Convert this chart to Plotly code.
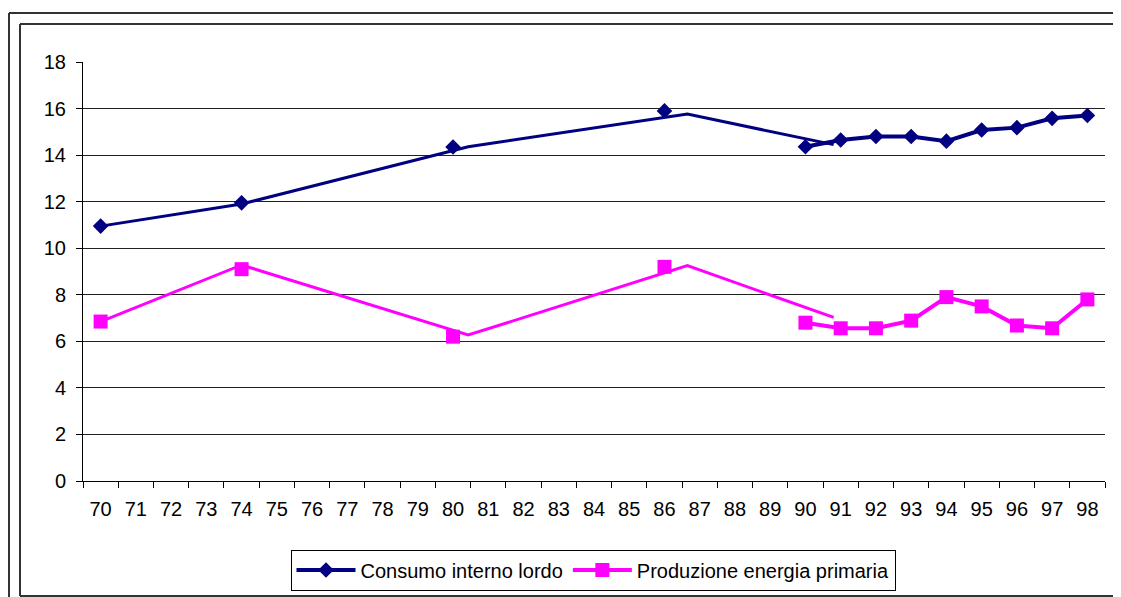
import plotly.graph_objects as go

years = [70, 74, 80, 86, 90, 91, 92, 93, 94, 95, 96, 97, 98]
consumo = [10.95, 11.95, 14.35, 15.9, 14.36, 14.65, 14.8, 14.8, 14.6, 15.08, 15.18, 15.58, 15.7]
produzione = [6.85, 9.1, 6.2, 9.2, 6.8, 6.56, 6.56, 6.89, 7.9, 7.5, 6.68, 6.56, 7.8]

# the early segment of each line is drawn slightly off the markers in the original
trend_x = [70, 74, 80.43, 86.65, 90.8]
consumo_trend = [10.95, 11.9, 14.36, 15.76, 14.45]
produzione_trend = [6.85, 9.28, 6.27, 9.25, 7.03]

tick_labels = [str(y) for y in range(70, 99)]

NAVY = "#000080"
PINK = "#FF00FF"
FONT = "Liberation Sans, Arial, sans-serif"

W, H = 1121, 597
OFF = 8  # page body margin: figure starts 8px in

# plot area in page pixels
L, R, T, B = 83, 1105, 62, 481


def px(x):
    return (x - L) / (R - L)


def py(y):
    return (B - y) / (B - T)


fig = go.Figure()

# early hand-drawn segments
fig.add_trace(go.Scatter(x=trend_x, y=consumo_trend, mode="lines",
                         line=dict(color=NAVY, width=3), showlegend=False, hoverinfo="skip"))
fig.add_trace(go.Scatter(x=trend_x, y=produzione_trend, mode="lines",
                         line=dict(color=PINK, width=3), showlegend=False, hoverinfo="skip"))

# early markers
fig.add_trace(go.Scatter(x=years[:4], y=consumo[:4], mode="markers",
                         marker=dict(symbol="diamond", size=12, color=NAVY), showlegend=False))
fig.add_trace(go.Scatter(x=years[:4], y=produzione[:4], mode="markers",
                         marker=dict(symbol="square", size=14, color=PINK), showlegend=False))

# yearly series from 1990
fig.add_trace(go.Scatter(x=years[4:], y=consumo[4:], mode="lines+markers",
                         name="Consumo interno lordo",
                         line=dict(color=NAVY, width=4),
                         marker=dict(symbol="diamond", size=12, color=NAVY)))
fig.add_trace(go.Scatter(x=years[4:], y=produzione[4:], mode="lines+markers",
                         name="Produzione energia primaria",
                         line=dict(color=PINK, width=4),
                         marker=dict(symbol="square", size=14, color=PINK)))

frame = dict(color="#333333", width=2)
shapes = [
    # outer frame
    dict(type="line", xref="paper", yref="paper", x0=px(9), x1=px(W + 20), y0=py(13), y1=py(13), line=frame),
    dict(type="line", xref="paper", yref="paper", x0=px(9), x1=px(9), y0=py(13), y1=py(W), line=frame),
    # inner frame
    dict(type="line", xref="paper", yref="paper", x0=px(20), x1=px(W + 20), y0=py(24), y1=py(24), line=frame),
    dict(type="line", xref="paper", yref="paper", x0=px(20), x1=px(20), y0=py(24), y1=py(596), line=frame),
    dict(type="line", xref="paper", yref="paper", x0=px(20), x1=px(W + 20), y0=py(596), y1=py(596), line=frame),
]

fig.update_layout(
    width=W, height=H,
    margin=dict(l=L - OFF, r=W - R + OFF, t=T - OFF, b=H - B + OFF),
    plot_bgcolor="white",
    paper_bgcolor="white",
    font=dict(family=FONT, size=20, color="black"),
    shapes=shapes,
    showlegend=True,
    legend=dict(
        orientation="h",
        x=px(593), xanchor="center",
        y=py(570), yanchor="middle",
        bordercolor="black", borderwidth=1,
        font=dict(size=20),
        itemwidth=59,
        tracegroupgap=0,
    ),
    xaxis=dict(
        range=[69.5, 98.5],
        tickvals=list(range(70, 99)),
        ticktext=tick_labels,
        ticks="",
        ticklabelstandoff=10,
        automargin=False,
        showgrid=False,
        zeroline=False,
        showline=True, linecolor="black", linewidth=1,
        minor=dict(tick0=69.5, dtick=1, ticks="outside", ticklen=6,
                   tickcolor="black", showgrid=False),
    ),
    yaxis=dict(
        range=[0, 18],
        dtick=2,
        ticks="outside", ticklen=6, tickcolor="black",
        ticklabelstandoff=6,
        automargin=False,
        showgrid=True, gridcolor="#222222", gridwidth=1,
        zeroline=False,
        showline=True, linecolor="black", linewidth=1,
    ),
)

fig.write_html("out.html")
